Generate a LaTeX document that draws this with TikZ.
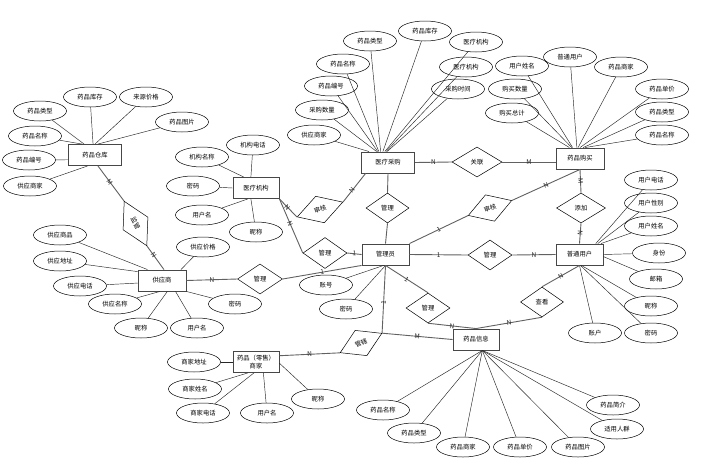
\documentclass[tikz,border=0pt]{standalone}
\usepackage{fontspec}
\newfontfamily\cjk{Noto Sans CJK SC}
\usetikzlibrary{shapes.geometric}
\begin{document}
\begin{tikzpicture}[x=1pt,y=-1pt,
  base/.style={font=\cjk\fontsize{6.3}{7.2}\selectfont, inner sep=0pt, align=center},
  ent/.style={base, rectangle, draw=black!72, line width=0.9pt, minimum width=47pt, minimum height=21pt},
  attr/.style={base, ellipse, draw=black, line width=0.5pt, minimum width=53pt, minimum height=20pt},
  rel/.style={base, diamond, draw=black, line width=0.5pt, minimum width=45pt, minimum height=30pt},
  al/.style={draw=black!85, line width=0.45pt},
  rl/.style={draw=black!62, line width=0.9pt},
  lab/.style={font=\cjk\fontsize{6.5}{6.5}\selectfont, inner sep=0.5pt, sloped, text=black!85}
]
\fill[white] (0,0) rectangle (703,461);
\useasboundingbox (0,0) rectangle (703,461);

% entities
\node[ent, minimum width=53pt] (wh) at (95,155) {药品仓库};
\node[ent, minimum width=46pt] (org) at (256,188) {医疗机构};
\node[ent, minimum width=53pt] (pur) at (388,162.5) {医疗采购};
\node[ent, minimum width=48pt] (buy) at (580,158.5) {药品购买};
\node[ent, minimum width=48pt] (sup) at (162,280.5) {供应商};
\node[ent] (adm) at (385.5,254.5) {管理员};
\node[ent] (usr) at (579.5,254.5) {普通用户};
\node[ent, minimum width=46pt] (med) at (476,339.5) {药品信息};
\node[ent, minimum width=46pt] (shop) at (256,362) {药品（零售）\\商家};

% relationships
\node[rel, minimum width=50pt, minimum height=28pt, rotate=-63] (r1) at (135.5,223.5) {监管};
\node[rel, minimum width=48pt, minimum height=28pt, rotate=18] (r2) at (320,209.5) {审核};
\node[rel, minimum width=43pt] (r3) at (387.5,208) {管理};
\node[rel, minimum width=44pt, minimum height=31pt] (r4) at (325,253) {管理};
\node[rel] (r5) at (260,279) {管理};
\node[rel, minimum width=50pt] (r6) at (477,162) {关联};
\node[rel, minimum width=46pt, minimum height=28pt, rotate=19] (r7) at (490,208) {审核};
\node[rel, minimum width=44pt] (r8) at (490,255) {管理};
\node[rel, minimum width=49pt] (r9) at (581,208) {添加};
\node[rel, minimum width=44pt] (r10) at (428,308) {管理};
\node[rel, minimum width=43pt] (r11) at (542,302) {查看};
\node[rel, minimum width=46pt, minimum height=28pt, rotate=25] (r12) at (361,343) {管辖};

% attributes of 药品仓库
\node[attr] (wa1) at (40,111) {药品类型};
\node[attr] (wa2) at (90,97) {药品库存};
\node[attr] (wa3) at (146,97) {来源价格};
\node[attr] (wa4) at (182,122) {药品图片};
\node[attr] (wa5) at (35,136) {药品名称};
\node[attr] (wa6) at (29,160) {药品编号};
\node[attr] (wa7) at (30,186) {供应商家};
% attributes of 医疗机构
\node[attr] (oa1) at (202,157) {机构名称};
\node[attr] (oa2) at (253,145) {机构电话};
\node[attr] (oa3) at (193,186) {密码};
\node[attr] (oa4) at (202,215) {用户名};
\node[attr] (oa5) at (256,232) {昵称};
% attributes of 医疗采购
\node[attr] (pa1) at (425,31) {药品库存};
\node[attr] (pa2) at (370,41) {药品类型};
\node[attr] (pa3) at (476,42) {医疗机构};
\node[attr] (pa4) at (343,64) {药品名称};
\node[attr] (pa5) at (466,67) {医疗机构};
\node[attr] (pa6) at (331,86) {药品编号};
\node[attr] (pa7) at (458,89) {采购时间};
\node[attr] (pa8) at (322,110) {采购数量};
\node[attr] (pa9) at (314,135) {供应商家};
% attributes of 药品购买
\node[attr] (ba1) at (570,57) {普通用户};
\node[attr] (ba2) at (522,66) {用户姓名};
\node[attr] (ba3) at (621,67) {药品商家};
\node[attr] (ba4) at (515,89) {购买数量};
\node[attr] (ba5) at (662,89) {药品单价};
\node[attr] (ba6) at (512,113) {购买总计};
\node[attr] (ba7) at (662,112) {药品类型};
\node[attr] (ba8) at (662,135) {药品名称};
% attributes of 普通用户
\node[attr] (ua1) at (651,180) {用户电话};
\node[attr] (ua2) at (651,203) {用户性别};
\node[attr] (ua3) at (651,226) {用户姓名};
\node[attr] (ua4) at (659,253) {身份};
\node[attr] (ua5) at (656,279) {邮箱};
\node[attr] (ua6) at (651,306) {昵称};
\node[attr] (ua7) at (595,333) {账户};
\node[attr] (ua8) at (651,333) {密码};
% attributes of 供应商
\node[attr] (sa1) at (60,235) {供应商品};
\node[attr] (sa2) at (203,247) {供应价格};
\node[attr] (sa3) at (60,261) {供应地址};
\node[attr] (sa4) at (80,286) {供应电话};
\node[attr] (sa5) at (115,304) {供应名称};
\node[attr] (sa6) at (235,304) {密码};
\node[attr] (sa7) at (141,328) {昵称};
\node[attr] (sa8) at (197,328) {用户名};
% attributes of 管理员
\node[attr] (da1) at (326,285) {账号};
\node[attr] (da2) at (346,309) {密码};
% attributes of 商家
\node[attr] (ha1) at (194,362) {商家地址};
\node[attr] (ha2) at (195,389) {商家姓名};
\node[attr] (ha3) at (203,413) {商家电话};
\node[attr] (ha4) at (267,413) {用户名};
\node[attr] (ha5) at (318,399) {昵称};
% attributes of 药品信息
\node[attr] (ma1) at (383,410) {药品名称};
\node[attr] (ma2) at (414,433) {药品类型};
\node[attr] (ma3) at (463,447) {药品商家};
\node[attr] (ma4) at (520,447) {药品单价};
\node[attr] (ma5) at (578,447) {药品图片};
\node[attr] (ma6) at (617,429) {适用人群};
\node[attr] (ma7) at (613,405) {药品简介};

% attribute lines
\draw[al] (wa1) -- (wh.135);
\draw[al] (wa2) -- (wh.100);
\draw[al] (wa3) -- (wh.90);
\draw[al] (wa4) -- (wh.75);
\draw[al] (wa5) -- (wh.140);
\draw[al] (wa6) -- (wh.190);
\draw[al] (wa7) -- (wh.236);

\draw[al] (oa1) -- (org.138);
\draw[al] (oa2) -- (org.115);
\draw[al] (oa3) -- (org.west);
\draw[al] (oa4) -- (org.233);
\draw[al] (oa5) -- (org.245);

\draw[al] (pa9) -- (pur.150);
\draw[al] (pa8) -- (pur.136);
\draw[al] (pa6) -- (pur.133);
\draw[al] (pa4) -- (pur.130);
\draw[al] (pa2) -- (pur.124);
\draw[al] (pa1) -- (pur.115);
\draw[al] (pa3) -- (pur.106);
\draw[al] (pa5) -- (pur.100);
\draw[al] (pa7) -- (pur.95);

\draw[al] (ba6) -- (buy.134);
\draw[al] (ba4) -- (buy.127);
\draw[al] (ba2) -- (buy.124);
\draw[al] (ba1) -- (buy.106);
\draw[al] (ba3) -- (buy.100);
\draw[al] (ba5) -- (buy.90);
\draw[al] (ba7) -- (buy.74);
\draw[al] (ba8) -- (buy.65);

\draw[al] (ua1) -- (usr.34);
\draw[al] (ua2) -- (usr.31);
\draw[al] (ua3) -- (usr.27);
\draw[al] (ua4) -- (usr.east);
\draw[al] (ua5) -- (usr.355);
\draw[al] (ua6) -- (usr.280);
\draw[al] (ua7) -- (usr.south);
\draw[al] (ua8) -- (usr.275);

\draw[al] (sa1) -- (sup.143);
\draw[al] (sa3) -- (sup.160);
\draw[al] (sa4) -- (sup.186);
\draw[al] (sa5) -- (sup.259);
\draw[al] (sa7) -- (sup.296);
\draw[al] (sa8) -- (sup.321);
\draw[al] (sa6) -- (sup.south east);
\draw[al] (sa2) -- (sup.30);

\draw[al] (da1) -- (adm.260);
\draw[al] (da2) -- (adm.south);

\draw[al] (ha1) -- (shop.west);
\draw[al] (ha2) -- (shop.233);
\draw[al] (ha3) -- (shop.259);
\draw[al] (ha4) -- (shop.304);
\draw[al] (ha5) -- (shop.357);

\foreach \m in {ma1,ma2,ma3,ma4,ma5,ma6,ma7} { \draw[al] (\m) -- (med.300); }

% relationship connectors
\draw[rl] (wh.285) -- node[lab,pos=0.45]{M} (r1.west);
\draw[rl] (r1.east) -- node[lab,pos=0.4]{N} (sup.80);
\draw[rl] (org.south east) -- node[lab,pos=0.45]{N} (r2.west);
\draw[rl] (r2.east) -- node[lab,pos=0.4]{N} (pur.206);
\draw[rl] (org.south east) -- node[lab,pos=0.45]{N} (r4.west);
\draw[rl] (r4.east) -- node[lab]{1} (adm.west);
\draw[rl] (pur.south) -- (r3.north);
\draw[rl] (r3.south) -- (adm.north);
\draw[rl] (pur.east) -- node[lab]{N} (r6.west);
\draw[rl] (r6.east) -- node[lab]{M} (r6.east -| buy.west);
\draw[rl] (r7.east) -- node[lab]{N} (buy.south);
\draw[rl] (r7.west) -- node[lab]{1} (adm.north east);
\draw[rl] (adm.east) -- node[lab]{1} (r8.west);
\draw[rl] (r8.east) -- node[lab]{N} (usr.west);
\draw[rl] (buy.south) -- node[lab]{M} (r9.north);
\draw[rl] (r9.south) -- node[lab]{N} (usr.north);
\draw[rl] (sup.east) -- node[lab]{N} (r5.west);
\draw[rl] (r5.east) -- node[lab]{1} (adm.south west);
\draw[rl] (adm.south) -- node[lab]{1} (r10.north);
\draw[rl] (r10.south) -- node[lab]{N} (med.north);
\draw[rl] (usr.south) -- node[lab]{N} (r11.north);
\draw[rl] (r11.south) -- node[lab]{N} (med.north);
\draw[rl] (adm.south) -- node[lab,pos=0.55]{1} (r12.east);
\draw[rl] (r12.east) -- node[lab]{M} (med.west);
\draw[rl] (r12.west) -- node[lab]{N} (shop.15);
\end{tikzpicture}
\end{document}
